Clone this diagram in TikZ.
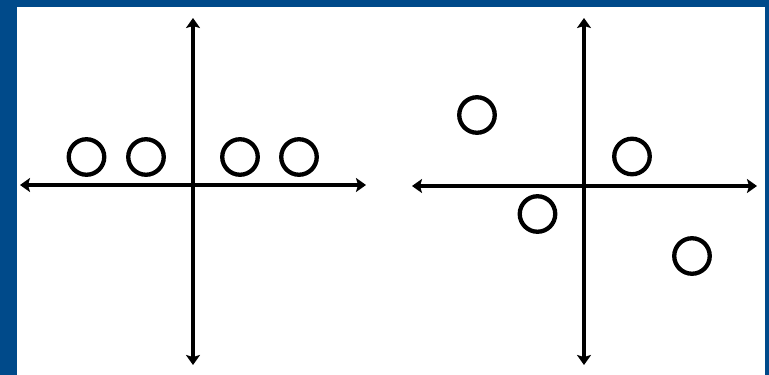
\documentclass[tikz,border=0pt]{standalone}
\usetikzlibrary{arrows.meta}
\definecolor{frameblue}{HTML}{004A8A}
\tikzset{
  axis/.style={line width=3.8pt, {Stealth[length=10pt,width=14pt,inset=2pt]}-{Stealth[length=10pt,width=14pt,inset=2pt]}},
  ring/.style={circle, draw=black, line width=4.3pt, minimum size=35.5pt, inner sep=0pt}
}
\begin{document}
\begin{tikzpicture}[x=1pt,y=-1pt]
\fill[frameblue] (0,0) rectangle (769,375);
\fill[white] (17,7) rectangle (765,375);
\useasboundingbox (0,0) rectangle (769,375);
% left axes
\coordinate (lw) at (20,185);
\coordinate (le) at (366,185);
\coordinate (ln) at (193,18);
\coordinate (ls) at (193,365);
\draw[axis] (lw) -- (le);
\draw[axis] (ln) -- (ls);
% right axes
\coordinate (rw) at (412,186);
\coordinate (re) at (757,186);
\coordinate (rn) at (584,18);
\coordinate (rs) at (584,365);
\draw[axis] (rw) -- (re);
\draw[axis] (rn) -- (rs);
% left circles
\node[ring] (a1) at (86.5,157) {};
\node[ring] (a2) at (146,157) {};
\node[ring] (a3) at (240,157) {};
\node[ring] (a4) at (299,157) {};
% right circles
\node[ring] (b1) at (477,115) {};
\node[ring] (b2) at (537.5,214) {};
\node[ring] (b3) at (632,156.5) {};
\node[ring] (b4) at (692,256) {};
\end{tikzpicture}
\end{document}
